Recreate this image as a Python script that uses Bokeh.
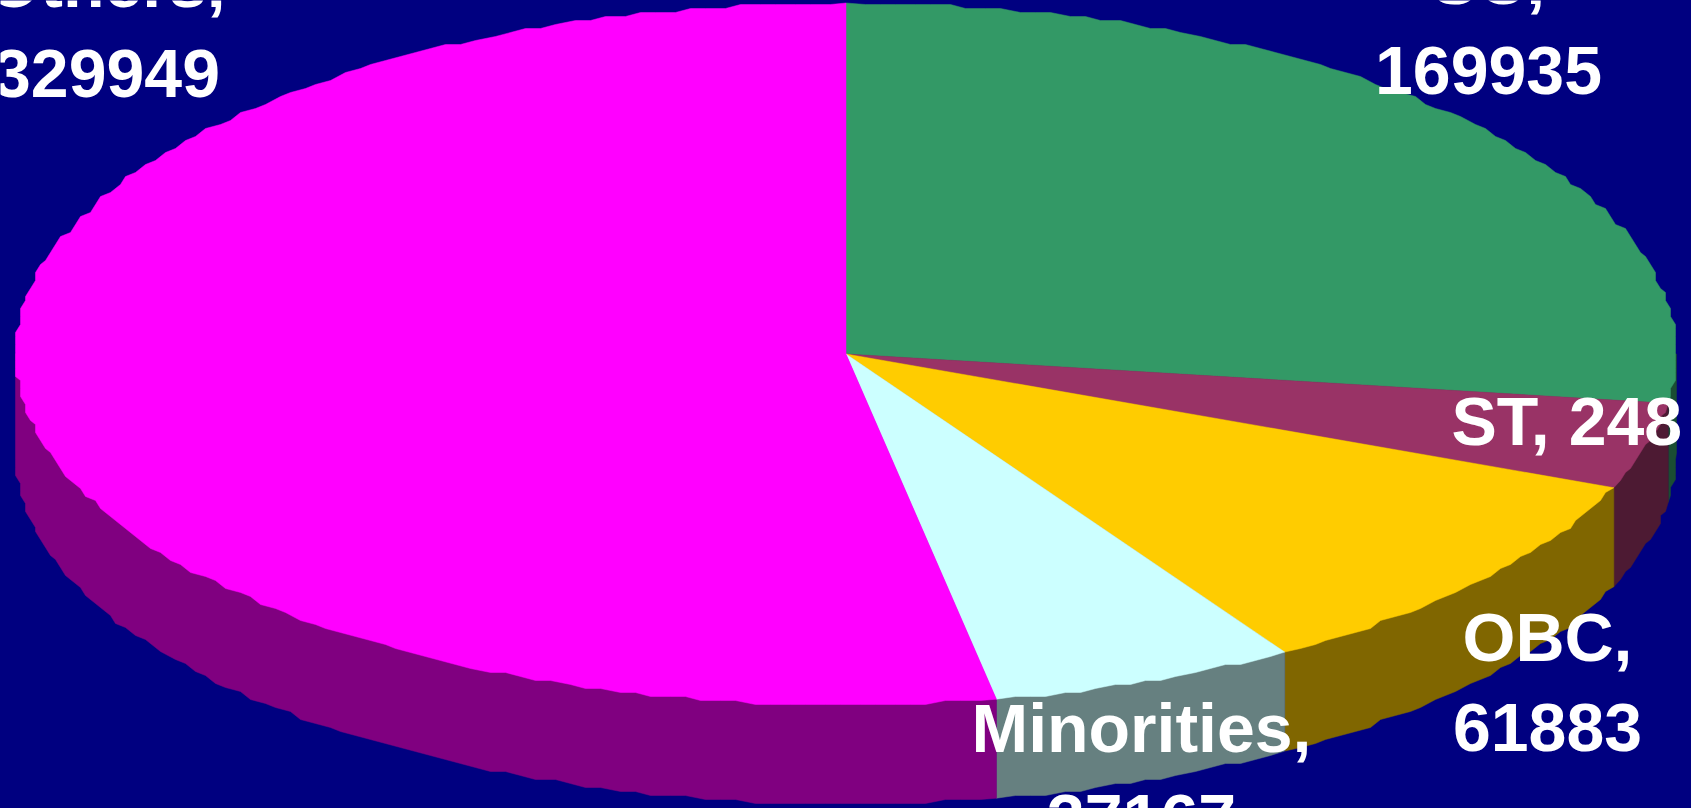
import numpy as np
from bokeh.core.properties import value
from bokeh.embed import file_html
from bokeh.models import ColumnDataSource, GlobalInlineStyleSheet, Range1d
from bokeh.plotting import figure
from bokeh.resources import INLINE

# data, clockwise from 12 o'clock
categories = ["SC", "ST", "OBC", "Minorities", "Others"]
values = [169935, 24800, 61883, 37167, 329949]
top_colors = ["#339966", "#993366", "#FFCC00", "#CCFFFF", "#FF00FF"]
side_colors = ["#1A4D33", "#4D1A33", "#806600", "#668080", "#800080"]

# labels (line text, anchor, baseline)
TEXT_DY = -24.5
label_lines = ["Others,", "329949", "SC,", "169935", "ST, 248", "OBC,", "61883", "Minorities,", "37167"]
label_x = [106, 106, 1488, 1488, 1451, 1547, 1547, 1141, 1141]
label_y = [6.5, 97, 3.5, 94, 445, 661, 751.5, 751.5, 842]
label_align = ["center", "center", "center", "center", "left", "center", "center", "center", "center"]

BG = "#000080"
CX, CY, RX, RY, DEPTH = 845.5, 353.5, 830.5, 351.0, 99.0
STEP = 1.2
GX, GY = 5.0, 4.0


def rim(a0, a1, dy=0.0):
    n = max(2, int(round((a1 - a0) / STEP)) + 1)
    t = np.radians(np.linspace(a0, a1, n))
    x = CX + RX * np.sin(t)
    y = CY - RY * np.cos(t) + dy
    x = np.round(x / GX) * GX
    y = np.round((y - dy) / GY) * GY + dy
    x[0], y[0] = CX + RX * np.sin(t[0]), CY - RY * np.cos(t[0]) + dy
    x[-1], y[-1] = CX + RX * np.sin(t[-1]), CY - RY * np.cos(t[-1]) + dy
    return x, y


edges = np.concatenate([[0.0], np.cumsum(values)]) / np.sum(values) * 360.0

top_x, top_y, wall_x, wall_y, wall_c = [], [], [], [], []
for i in range(len(values)):
    a0, a1 = edges[i], edges[i + 1]
    rx_, ry_ = rim(a0, a1)
    top_x.append(np.concatenate([[CX], rx_]).tolist())
    top_y.append(np.concatenate([[CY], ry_]).tolist())
    v0, v1 = max(a0, 90.0), min(a1, 270.0)
    if v1 > v0:
        ux, uy = rim(v0, v1)
        lx, ly = rim(v0, v1, DEPTH)
        # the polygon runs on under the top face, so no gap shows along the rim
        wall_x.append(np.concatenate([lx, [ux[-1], CX, ux[0]]]).tolist())
        wall_y.append(np.concatenate([ly, [uy[-1], CY, uy[0]]]).tolist())
        wall_c.append(side_colors[i])

p = figure(
    width=1691, height=808,
    x_range=Range1d(0, 1691), y_range=Range1d(808, 0),
    output_backend="svg", toolbar_location=None,
    background_fill_color=BG, border_fill_color=BG,
    min_border=0, outline_line_color=None,
)
p.axis.visible = False
p.grid.visible = False
p.stylesheets = [GlobalInlineStyleSheet(css="html, body { background: #000080; }")]

p.patches("x", "y", source=ColumnDataSource(dict(x=wall_x, y=wall_y, c=wall_c)),
          fill_color="c", line_color="c", line_width=0.5)
p.patches("x", "y", source=ColumnDataSource(dict(x=top_x, y=top_y, c=top_colors)),
          fill_color="c", line_color="c", line_width=0.5)
p.text("x", "y", text="t",
       source=ColumnDataSource(dict(x=label_x, y=[v + TEXT_DY for v in label_y], t=label_lines, a=label_align)),
       text_align="a", text_baseline="alphabetic", text_color="white",
       text_font=value("Liberation Sans"), text_font_style="bold", text_font_size="68px")

open("out.html", "w").write(file_html(p, INLINE))
